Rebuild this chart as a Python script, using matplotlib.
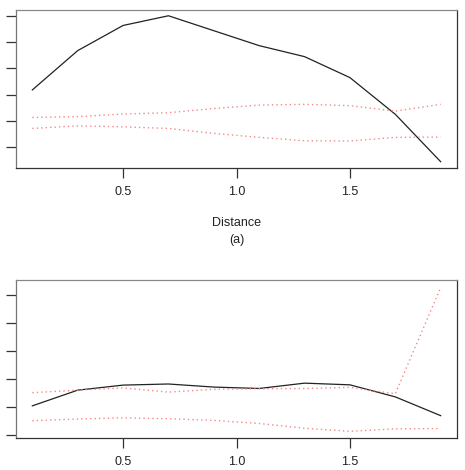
import matplotlib
matplotlib.use("Agg")
import matplotlib.pyplot as plt

plt.rcParams['font.family'] = ['Liberation Sans', 'DejaVu Sans']

distance = [0.1, 0.3, 0.5, 0.7, 0.9, 1.1, 1.3, 1.5, 1.7, 1.9]

# panel (a)
a_est = [2.18, 3.68, 4.64, 5.01, 4.44, 3.87, 3.45, 2.65, 1.25, -0.56]
a_upper = [1.13, 1.16, 1.26, 1.31, 1.47, 1.60, 1.63, 1.58, 1.37, 1.63]
a_lower = [0.71, 0.81, 0.77, 0.71, 0.52, 0.37, 0.24, 0.23, 0.37, 0.38]
a_yticks = [0, 1, 2, 3, 4, 5]

# panel (b)
b_est = [1.05, 1.61, 1.79, 1.83, 1.72, 1.67, 1.86, 1.80, 1.37, 0.70]
b_upper = [1.52, 1.61, 1.69, 1.54, 1.64, 1.66, 1.67, 1.71, 1.48, 5.27]
b_lower = [0.52, 0.58, 0.62, 0.59, 0.53, 0.42, 0.25, 0.14, 0.23, 0.24]
b_yticks = [0, 1, 2, 3, 4, 5]

xticks = [0.5, 1.0, 1.5]
xticklabels = ["0.5", "1.0", "1.5"]

W, H = 465, 470
fig = plt.figure(figsize=(W / 100, H / 100), dpi=100)

def px_axes(left, top, right, bottom):
    return fig.add_axes([left / W, 1 - bottom / H, (right - left) / W, (bottom - top) / H])

ax1 = px_axes(16, 10, 457, 168)
ax2 = px_axes(16, 279.5, 457, 437.5)

red = '#f28a8a'
for ax, est, up, lo, yt, ylim in [
    (ax1, a_est, a_upper, a_lower, a_yticks, (-0.80, 5.23)),
    (ax2, b_est, b_upper, b_lower, b_yticks, (-0.08, 5.56)),
]:
    ax.plot(distance, est, color='#222222', lw=0.9)
    ax.plot(distance, up, color=red, lw=1.0, linestyle=(0, (1, 2.2)))
    ax.plot(distance, lo, color=red, lw=1.0, linestyle=(0, (1, 2.2)))
    ax.set_xlim(0.028, 1.972)
    ax.set_ylim(*ylim)
    ax.set_xticks(xticks)
    ax.set_xticklabels(xticklabels)
    ax.set_yticks(yt)
    ax.tick_params(axis='both', direction='out', length=7, width=0.9, color='#333333',
                   labelsize=9, labelcolor='#222222')
    ax.tick_params(axis='x', pad=6)
    ax.tick_params(axis='y', labelleft=False)
    for s in ax.spines.values():
        s.set_linewidth(0.9)
        s.set_color('#333333')
    ax.spines['left'].set_color('#777777')
    ax.spines['top'].set_color('#888888')

fig.text(236.5 / W, 1 - 223 / H, "Distance", ha='center', va='center', fontsize=9, color='#222222')
fig.text(236.5 / W, 1 - 240 / H, "(a)", ha='center', va='center', fontsize=9, color='#222222')

fig.savefig("out.png", dpi=100)
